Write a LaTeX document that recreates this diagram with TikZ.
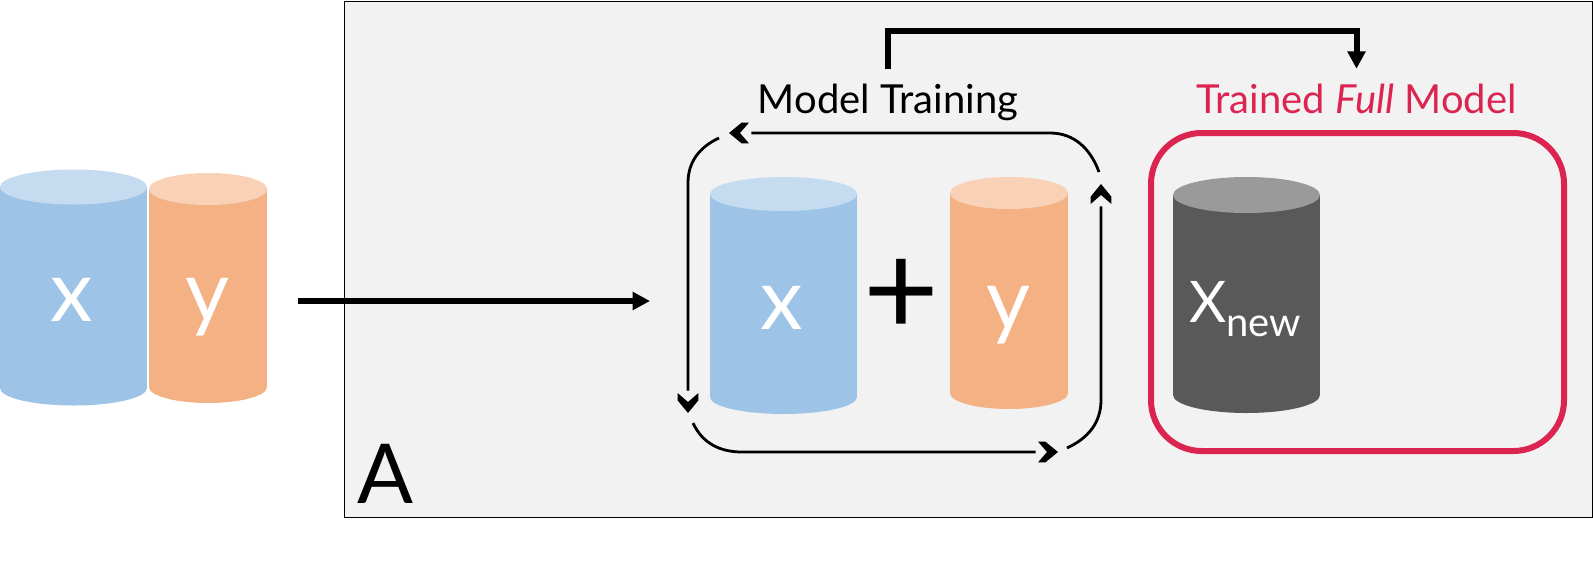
\documentclass[tikz,border=0pt]{standalone}
\usepackage{fontspec}
\setmainfont{Lato}
\usepackage{xcolor}
\usetikzlibrary{arrows.meta}
\definecolor{PanelGray}{HTML}{F2F2F2}
\definecolor{DataBlue}{HTML}{9DC3E6}
\definecolor{DataBlueTop}{HTML}{C5DBF0}
\definecolor{DataOrange}{HTML}{F4B183}
\definecolor{DataOrangeTop}{HTML}{F8D1B6}
\definecolor{NewGray}{HTML}{595959}
\definecolor{NewGrayTop}{HTML}{9A9A9A}
\definecolor{ModelRed}{HTML}{DC2451}
\pgfdeclarearrow{
  name=Chevron,
  setup code={
    \pgfarrowssettipend{0pt}
    \pgfarrowssetlineend{-16.75pt}
    \pgfarrowssetvisualbackend{-14.75pt}
    \pgfarrowssetbackend{-16.75pt}
    \pgfarrowshullpoint{0pt}{0pt}
    \pgfarrowshullpoint{-14.75pt}{7.8pt}
    \pgfarrowshullpoint{-14.75pt}{-7.8pt}
  },
  drawing code={
    \pgfpathmoveto{\pgfqpoint{0pt}{0pt}}
    \pgfpathlineto{\pgfqpoint{-9.5pt}{7.8pt}}
    \pgfpathlineto{\pgfqpoint{-15pt}{7.8pt}}
    \pgfpathlineto{\pgfqpoint{-8.25pt}{0pt}}
    \pgfpathlineto{\pgfqpoint{-15pt}{-7.8pt}}
    \pgfpathlineto{\pgfqpoint{-9.5pt}{-7.8pt}}
    \pgfpathclose
    \pgfusepathqfill
  }
}

\begin{document}
\begin{tikzpicture}[
  x=0.75pt,y=-0.75pt,
  letter/.style={anchor=base,text=white,inner sep=0pt,font=\fontsize{64}{64}\selectfont},
  title/.style={anchor=base,inner xsep=0pt,inner ysep=0pt,text height=33pt,text depth=0pt,font=\fontsize{30}{32}\selectfont},
  feed/.style={-{Triangle[length=13pt,width=13pt]},line width=4.5pt},
  cycle/.style={-{Chevron},line width=2.1pt}
]
\useasboundingbox (0,0) rectangle (1593,579);
\node[draw=black,line width=0.6pt,fill=PanelGray,minimum width=936pt,minimum height=387pt,inner sep=0pt] (panel) at (968.5,259) {};
\node[anchor=base,inner sep=0pt,font=\fontsize{62}{62}\selectfont] (panelname) at (385.5,503) {A};

% cylinders: centre, x radius, cap, foot, y radius, colours
\foreach \cx/\rx/\captop/\foot/\ry/\body/\lid in {
  73.5/73.5/187/388/17.5/DataBlue/DataBlueTop,
  208/59/189/387/16/DataOrange/DataOrangeTop,
  783.5/73.5/194/397/17/DataBlue/DataBlueTop,
  1009/59/193/393/16/DataOrange/DataOrangeTop,
  1246.5/73.5/195/395/18/NewGray/NewGrayTop} {
  \fill[\body] (\cx-\rx,\captop) rectangle (\cx+\rx,\foot);
  \fill[\body] (\cx,\foot) ellipse[x radius=\rx,y radius=\ry];
  \fill[\lid] (\cx,\captop) ellipse[x radius=\rx,y radius=\ry];
}

% data on the left
\node[letter] (xdata) at (72,321) {x};
\node[letter] (ydata) at (207,321) {y};

% model training
\node[letter] (xtrain) at (782,329) {x};
\node[letter] (ytrain) at (1008,329) {y};
\node[anchor=center,inner sep=0pt,font=\fontsize{98}{98}\selectfont] (plus) at (901,297) {+};
\node[title] (training) at (888,113) {Model Training};

% trained model
\node[draw=ModelRed,line width=4.5pt,rounded corners=38pt,minimum width=309.75pt,minimum height=238.5pt,inner sep=0pt] (fullbox) at (1357.5,292) {};
\node[title,text=ModelRed] (full) at (1356.5,113) {Trained \textit{Full} Model};
\node[anchor=base west,text=white,inner sep=0pt] (xnew) at (1189,322) {\fontsize{43}{43}\selectfont X\raisebox{-10.5pt}{\fontsize{30}{30}\selectfont new}};

\coordinate (feedstart) at (298,301);
\coordinate (feedend) at (650,301);
\draw[feed] (feedstart) -- (feedend);
\draw[feed] (training.north) -- ++(0,-38) -| (full.north);

% training loop
\coordinate (topstart) at (1099,172);
\coordinate (topbend) at (1050,133);
\coordinate (topend) at (729,133);
\coordinate (leftstart) at (719,138);
\coordinate (leftbend) at (688,183);
\coordinate (leftend) at (688,413);
\coordinate (bottomstart) at (693,423);
\coordinate (bottombend) at (742,452);
\coordinate (bottomend) at (1058,452);
\coordinate (rightstart) at (1067,448);
\coordinate (rightbend) at (1101,400);
\coordinate (rightend) at (1101,184);
\draw[cycle] (topstart) to[out=110,in=0] (topbend) -- (topend);
\draw[cycle] (leftstart) to[out=205,in=90] (leftbend) -- (leftend);
\draw[cycle] (bottomstart) to[out=-65,in=180] (bottombend) -- (bottomend);
\draw[cycle] (rightstart) to[out=25,in=-90] (rightbend) -- (rightend);
\end{tikzpicture}
\end{document}
